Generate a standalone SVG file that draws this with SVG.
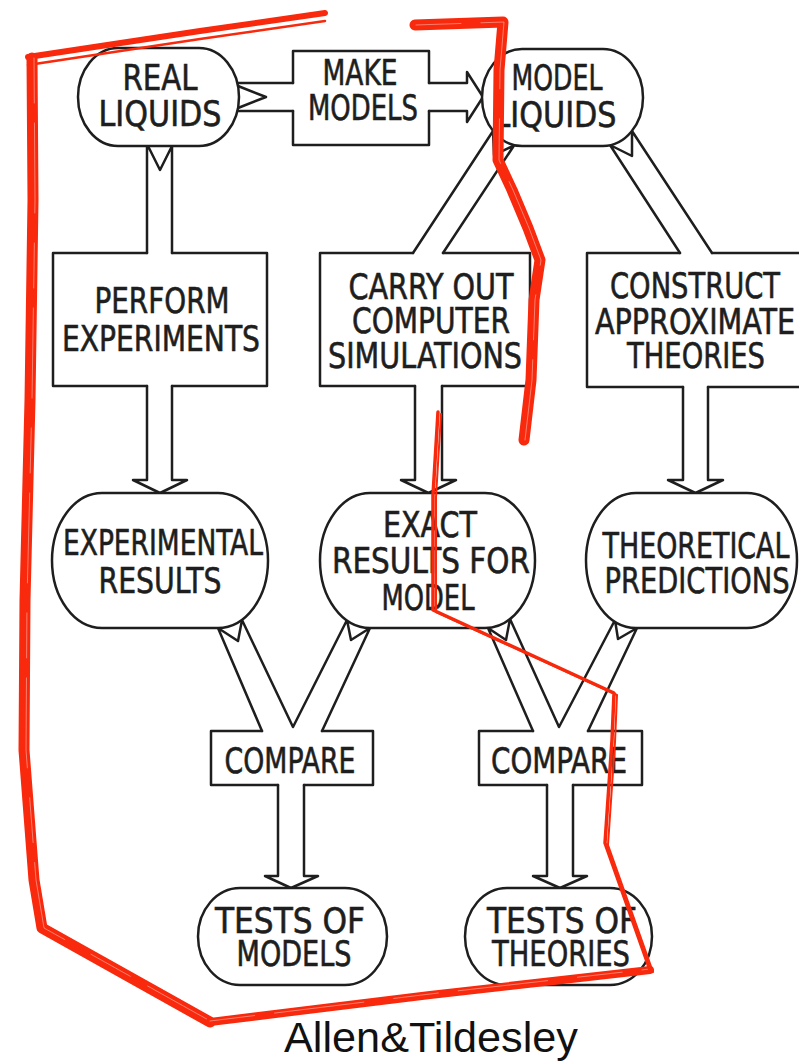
<svg xmlns="http://www.w3.org/2000/svg" width="799" height="1062" viewBox="0 0 799 1062">
  <style>
    .ln{fill:none;stroke:#1e1e1e;stroke-width:2.5;stroke-linejoin:round;stroke-linecap:round}
    .nd{fill:#fff;stroke:#1e1e1e;stroke-width:2.5}
    .t{font-family:"DejaVu Sans Condensed","DejaVu Sans",sans-serif;font-size:36px;fill:#1e1e1e;stroke:#1e1e1e;stroke-width:0.6;text-anchor:middle}
    .cap{font-family:"Liberation Sans",Arial,sans-serif;font-size:42px;fill:#111}
    .red{fill:none;stroke:#f8290c;stroke-linejoin:round;stroke-linecap:round}
    .streak{fill:none;stroke:#fff;stroke-width:1;opacity:.4;stroke-linecap:round;stroke-dasharray:45 20 90 30}
  </style>
  <defs>
    <!-- hand-drawn red outline, split into its separate strokes -->
    <path id="pen-top" d="M325,13 L200,31 L28,57"/>
    <path id="pen-left" d="M32,58 L33,200 L30,400 L25,600 L24,750 L34,880 L42,928 L210,1022"/>
    <path id="pen-bottom" d="M210,1022 L430,995 L650,970"/>
    <path id="pen-right" d="M650,970 L605,843 L612,740 L614,693 L433,610 L433,495 L438,412"/>
    <path id="pen-upper" d="M415,25 L503,22 L499,70 L498,160 L512,190 L528,228 L540,260 L534,300 L531,380 L524,440"/>
  </defs>

  <rect width="799" height="1062" fill="#fff"/>

  <!-- block arrows between the nodes -->
  <g id="connectors" class="ln">
    <path d="M237,83 H293 M237,111 H293 M238,86 L266,97 L238,108"/>
    <path d="M429,83 H467 V72 L483,97 L467,122 V111 H429"/>
    <path d="M147,140 V253 M172,140 V253 M148,146 L160,170 L172,146"/>
    <path d="M147,386 V480 H133 L160,493 L187,480 H172 V386"/>
    <path d="M413,253 L495,128 M443,253 L517,141 M493,131 L494,155 L515,145"/>
    <path d="M610,145 L680,253 M632,131 L712,253 M610,145 L632,156 L632,131"/>
    <path d="M415,386 V480 H401 L428.5,493 L456,480 H442 V386"/>
    <path d="M683,387 V480 H668 L695.5,493 L723,480 H708 V387"/>
    <path d="M262,731 L218,628 M242,620 L293,727 L347,620 M322,731 L370,628 M218,628 L238,641 L242,620 M347,620 L351,640 L370,628"/>
    <path d="M278,785 V876 H265 L291,888 L318,876 H304 V785"/>
    <path d="M533,731 L488,628 M510,619 L559,727 L615,620 M588,731 L637,628 M488,628 L506,640 L510,619 M615,620 L618,639 L637,628"/>
    <path d="M547,785 V876 H533 L560,888 L587,876 H573 V785"/>
  </g>

  <g id="real-liquids">
    <rect class="nd" x="78" y="48" width="161" height="98" rx="40" ry="49"/>
    <text class="t" x="160" y="90" textLength="75" lengthAdjust="spacingAndGlyphs">REAL</text>
    <text class="t" x="160" y="126" textLength="123" lengthAdjust="spacingAndGlyphs">LIQUIDS</text>
  </g>

  <g id="make-models">
    <path class="ln" d="M293,83 V51 H429 V83 M429,111 V145 H293 V111"/>
    <text class="t" x="360" y="85" textLength="75" lengthAdjust="spacingAndGlyphs">MAKE</text>
    <text class="t" x="363" y="120" textLength="110" lengthAdjust="spacingAndGlyphs">MODELS</text>
  </g>

  <g id="model-liquids">
    <rect class="nd" x="482" y="49" width="161" height="97" rx="40" ry="48.5"/>
    <text class="t" x="557" y="90" textLength="91" lengthAdjust="spacingAndGlyphs">MODEL</text>
    <text class="t" x="555" y="127" textLength="123" lengthAdjust="spacingAndGlyphs">LIQUIDS</text>
  </g>

  <g id="perform-experiments">
    <path class="ln" d="M147,253 H53 V386 H147 M172,386 H267 V253 H172"/>
    <text class="t" x="162" y="313" textLength="135" lengthAdjust="spacingAndGlyphs">PERFORM</text>
    <text class="t" x="161" y="351" textLength="198" lengthAdjust="spacingAndGlyphs">EXPERIMENTS</text>
  </g>

  <g id="carry-out-simulations">
    <path class="ln" d="M413,253 H320 V386 H415 M442,386 H530 V253 H443"/>
    <text class="t" x="431" y="299" textLength="165" lengthAdjust="spacingAndGlyphs">CARRY OUT</text>
    <text class="t" x="431" y="333" textLength="158" lengthAdjust="spacingAndGlyphs">COMPUTER</text>
    <text class="t" x="425" y="368" textLength="194" lengthAdjust="spacingAndGlyphs">SIMULATIONS</text>
  </g>

  <g id="construct-theories">
    <path class="ln" d="M680,253 H587 V387 H683 M708,387 H812 M712,253 H812"/>
    <text class="t" x="695" y="298" textLength="170" lengthAdjust="spacingAndGlyphs">CONSTRUCT</text>
    <text class="t" x="695" y="334" textLength="200" lengthAdjust="spacingAndGlyphs">APPROXIMATE</text>
    <text class="t" x="696" y="368" textLength="138" lengthAdjust="spacingAndGlyphs">THEORIES</text>
  </g>

  <g id="experimental-results">
    <rect class="nd" x="52" y="493" width="216" height="135" rx="50" ry="67.5"/>
    <text class="t" x="163" y="555" textLength="200" lengthAdjust="spacingAndGlyphs">EXPERIMENTAL</text>
    <text class="t" x="160" y="593" textLength="123" lengthAdjust="spacingAndGlyphs">RESULTS</text>
  </g>

  <g id="exact-results">
    <rect class="nd" x="320" y="493" width="215" height="135" rx="50" ry="67.5"/>
    <text class="t" x="430" y="537" textLength="94" lengthAdjust="spacingAndGlyphs">EXACT</text>
    <text class="t" x="431" y="573" textLength="198" lengthAdjust="spacingAndGlyphs">RESULTS FOR</text>
    <text class="t" x="428" y="610" textLength="93" lengthAdjust="spacingAndGlyphs">MODEL</text>
  </g>

  <g id="theoretical-predictions">
    <rect class="nd" x="586" y="493" width="211" height="135" rx="50" ry="67.5"/>
    <text class="t" x="696" y="558" textLength="187" lengthAdjust="spacingAndGlyphs">THEORETICAL</text>
    <text class="t" x="697" y="593" textLength="185" lengthAdjust="spacingAndGlyphs">PREDICTIONS</text>
  </g>

  <g id="compare-models">
    <path class="ln" d="M262,731 H211 V785 H278 M304,785 H373 V731 H322"/>
    <text class="t" x="290" y="773" textLength="131" lengthAdjust="spacingAndGlyphs">COMPARE</text>
  </g>

  <g id="compare-theories">
    <path class="ln" d="M533,731 H479 V785 H547 M573,785 H642 V731 H588"/>
    <text class="t" x="559" y="773" textLength="136" lengthAdjust="spacingAndGlyphs">COMPARE</text>
  </g>

  <g id="tests-of-models">
    <rect class="nd" x="198" y="888" width="189" height="97" rx="42" ry="48.5"/>
    <text class="t" x="290" y="933" textLength="150" lengthAdjust="spacingAndGlyphs">TESTS  OF</text>
    <text class="t" x="294" y="966" textLength="115" lengthAdjust="spacingAndGlyphs">MODELS</text>
  </g>

  <g id="tests-of-theories">
    <rect class="nd" x="465" y="888" width="187" height="97" rx="42" ry="48.5"/>
    <text class="t" x="562" y="933" textLength="150" lengthAdjust="spacingAndGlyphs">TESTS  OF</text>
    <text class="t" x="561" y="966" textLength="138" lengthAdjust="spacingAndGlyphs">THEORIES</text>
  </g>

  <text id="caption" class="cap" x="284" y="1052" textLength="294" lengthAdjust="spacingAndGlyphs">Allen&amp;Tildesley</text>

  <!-- red marker outline drawn over the chart -->
  <g id="annotation">
    <use href="#pen-top" class="red" stroke-width="6"/>
    <use href="#pen-top" class="red" stroke-width="2.5" transform="translate(0,8)"/>
    <use href="#pen-left" class="red" stroke-width="11"/>
    <use href="#pen-left" class="streak" transform="translate(2,0)"/>
    <use href="#pen-bottom" class="red" stroke-width="8"/>
    <use href="#pen-bottom" class="streak" transform="translate(0,-1)"/>
    <use href="#pen-right" class="red" stroke-width="3.5"/>
    <use href="#pen-right" class="red" stroke-width="2" transform="translate(3,2)"/>
    <use href="#pen-upper" class="red" stroke-width="11"/>
    <use href="#pen-upper" class="streak" transform="translate(1,0)"/>
  </g>
</svg>
